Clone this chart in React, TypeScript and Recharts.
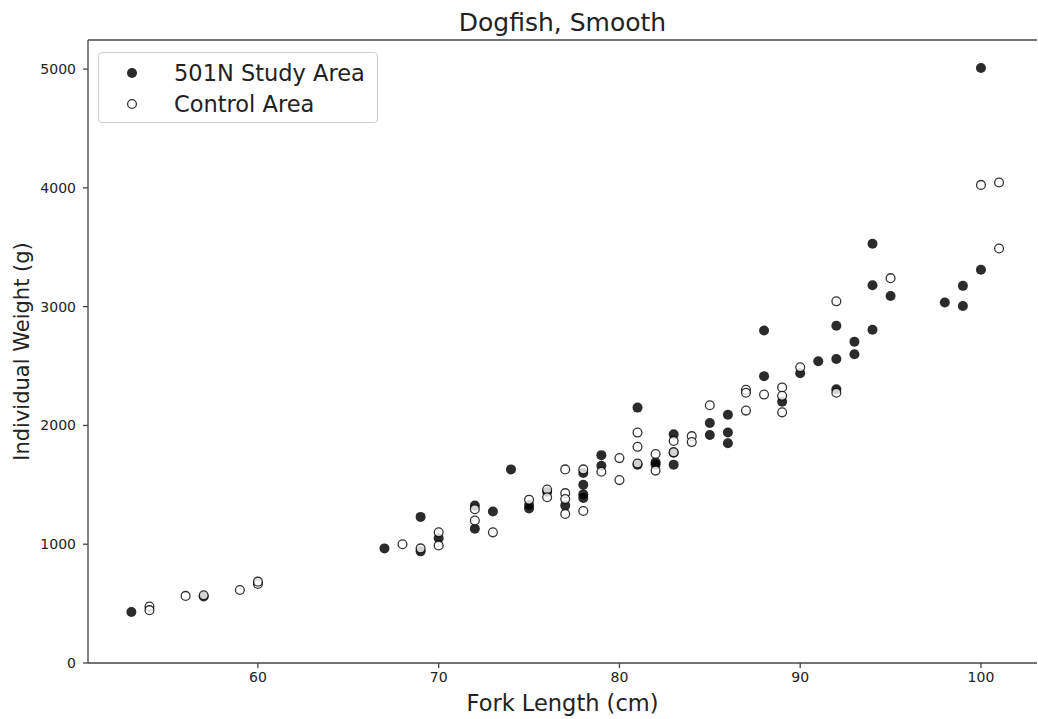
import { ScatterChart, Scatter, XAxis, YAxis, ReferenceLine, Legend, Label } from "recharts";

// 501N Study Area (filled markers)
const studyLength = [
  53, 57, 67, 69, 69, 70, 72, 72, 73, 74, 75, 75, 76, 77, 78, 78, 78, 78, 79, 79,
  81, 81, 82, 82, 83, 83, 83, 85, 85, 86, 86, 86, 88, 88, 89, 90, 91, 92, 92, 92,
  93, 93, 94, 94, 94, 95, 98, 99, 99, 100, 100,
];
const studyWeight = [
  430, 560, 965, 1230, 940, 1050, 1325, 1130, 1275, 1630, 1330, 1300, 1440, 1325, 1600, 1500, 1420, 1390, 1750, 1660,
  2150, 1670, 1670, 1690, 1925, 1670, 1770, 2020, 1920, 2090, 1940, 1850, 2800, 2415, 2200, 2440, 2540, 2840, 2560, 2305,
  2705, 2600, 3530, 3180, 2805, 3090, 3035, 3175, 3005, 5010, 3310,
];

// Control Area (open markers)
const controlLength = [
  54, 54, 56, 57, 59, 60, 60, 68, 69, 70, 70, 72, 72, 73, 75, 76, 76, 77, 77, 77,
  77, 78, 78, 79, 80, 80, 81, 81, 81, 82, 82, 83, 83, 84, 84, 85, 87, 87, 87, 88,
  89, 89, 89, 90, 92, 92, 95, 100, 101, 101,
];
const controlWeight = [
  475, 445, 565, 570, 615, 665, 685, 1000, 965, 1100, 990, 1295, 1200, 1100, 1375, 1460, 1395, 1630, 1430, 1380,
  1255, 1630, 1280, 1610, 1725, 1540, 1940, 1820, 1680, 1760, 1620, 1870, 1775, 1910, 1860, 2170, 2300, 2275, 2125, 2260,
  2320, 2250, 2110, 2490, 3045, 2275, 3240, 4025, 4045, 3490,
];

const xTicks = [60, 70, 80, 90, 100];
const yTicks = [0, 1000, 2000, 3000, 4000, 5000];

const studyData = studyLength.map((x, i) => ({ x, y: studyWeight[i] }));
const controlData = controlLength.map((x, i) => ({ x, y: controlWeight[i] }));

const FONT = "DejaVu Sans";
const SPINE = "#444";

const FilledDot = (p: any) => <circle cx={p.cx} cy={p.cy} r={5} fill="#000" fillOpacity={0.83} />;
const OpenDot = (p: any) => (
  <circle cx={p.cx} cy={p.cy} r={4.4} fill="#fff" fillOpacity={0.8} stroke="#000" strokeOpacity={0.8} strokeWidth={1.3} />
);

function LegendBox() {
  const rows = [
    { name: "501N Study Area", filled: true },
    { name: "Control Area", filled: false },
  ];
  return (
    <div
      style={{
        width: 278,
        height: 69,
        border: "1px solid #ccc",
        borderRadius: 4,
        background: "rgba(255,255,255,0.8)",
        fontFamily: FONT,
        fontSize: 22.5,
        color: "#222",
        position: "relative",
      }}
    >
      {rows.map((r, i) => (
        <div key={r.name} style={{ position: "absolute", left: 0, top: 20 + i * 31 - 14, height: 28, display: "flex", alignItems: "center" }}>
          <svg width={60} height={28}>
            {r.filled ? (
              <circle cx={33} cy={14} r={5} fill="#000" fillOpacity={0.83} />
            ) : (
              <circle cx={33} cy={14} r={4.4} fill="#fff" stroke="#000" strokeOpacity={0.8} strokeWidth={1.3} />
            )}
          </svg>
          <span style={{ marginLeft: 15, whiteSpace: "nowrap", lineHeight: "28px" }}>{r.name}</span>
        </div>
      ))}
    </div>
  );
}

export default function App() {
  return (
    <div style={{ position: "absolute", left: 0, top: 0, width: 1038, height: 719, background: "#fff", fontFamily: FONT }}>
      <div
        style={{
          position: "absolute",
          left: 88,
          width: 949,
          top: 10,
          textAlign: "center",
          fontSize: 25,
          lineHeight: 1,
          color: "#222",
        }}
      >
        Dogfish, Smooth
      </div>
      <ScatterChart width={1038} height={719} margin={{ top: 40, right: 1, bottom: 0, left: 0 }}>
        <XAxis
          type="number"
          dataKey="x"
          domain={[50.6, 103.1]}
          ticks={xTicks}
          allowDataOverflow
          height={56}
          tickSize={5}
          tickMargin={4}
          stroke={SPINE}
          strokeWidth={1.3}
          tick={{ fill: "#222", fontSize: 14, fontFamily: FONT }}
        >
          <Label
            value="Fork Length (cm)"
            position="insideBottom"
            offset={8}
            style={{ fill: "#222", fontSize: 22.5, fontFamily: FONT }}
          />
        </XAxis>
        <YAxis
          type="number"
          dataKey="y"
          domain={[0, 5245]}
          ticks={yTicks}
          allowDataOverflow
          width={88}
          tickSize={5}
          tickMargin={7}
          stroke={SPINE}
          strokeWidth={1.3}
          tick={{ fill: "#222", fontSize: 14, fontFamily: FONT }}
        >
          <Label
            content={(props: any) => {
              const vb = props.viewBox || { x: 0, y: 40, width: 88, height: 623 };
              const cx = vb.x + 22;
              const cy = vb.y + vb.height / 2;
              return (
                <text
                  x={cx}
                  y={cy}
                  transform={`rotate(-90, ${cx}, ${cy})`}
                  textAnchor="middle"
                  dominantBaseline="central"
                  style={{ fill: "#222", fontSize: 21, fontFamily: FONT }}
                >
                  Individual Weight (g)
                </text>
              );
            }}
          />
        </YAxis>
        <ReferenceLine y={5245} stroke={SPINE} strokeWidth={1.3} />
        <Legend
          layout="horizontal"
          verticalAlign="middle"
          align="center"
          content={() => <LegendBox />}
          wrapperStyle={{ position: "absolute", left: 98, top: 52, width: 280, height: 71 }}
        />
        <Scatter name="501N Study Area" data={studyData} shape={FilledDot} isAnimationActive={false} />
        <Scatter name="Control Area" data={controlData} shape={OpenDot} isAnimationActive={false} />
      </ScatterChart>
    </div>
  );
}
